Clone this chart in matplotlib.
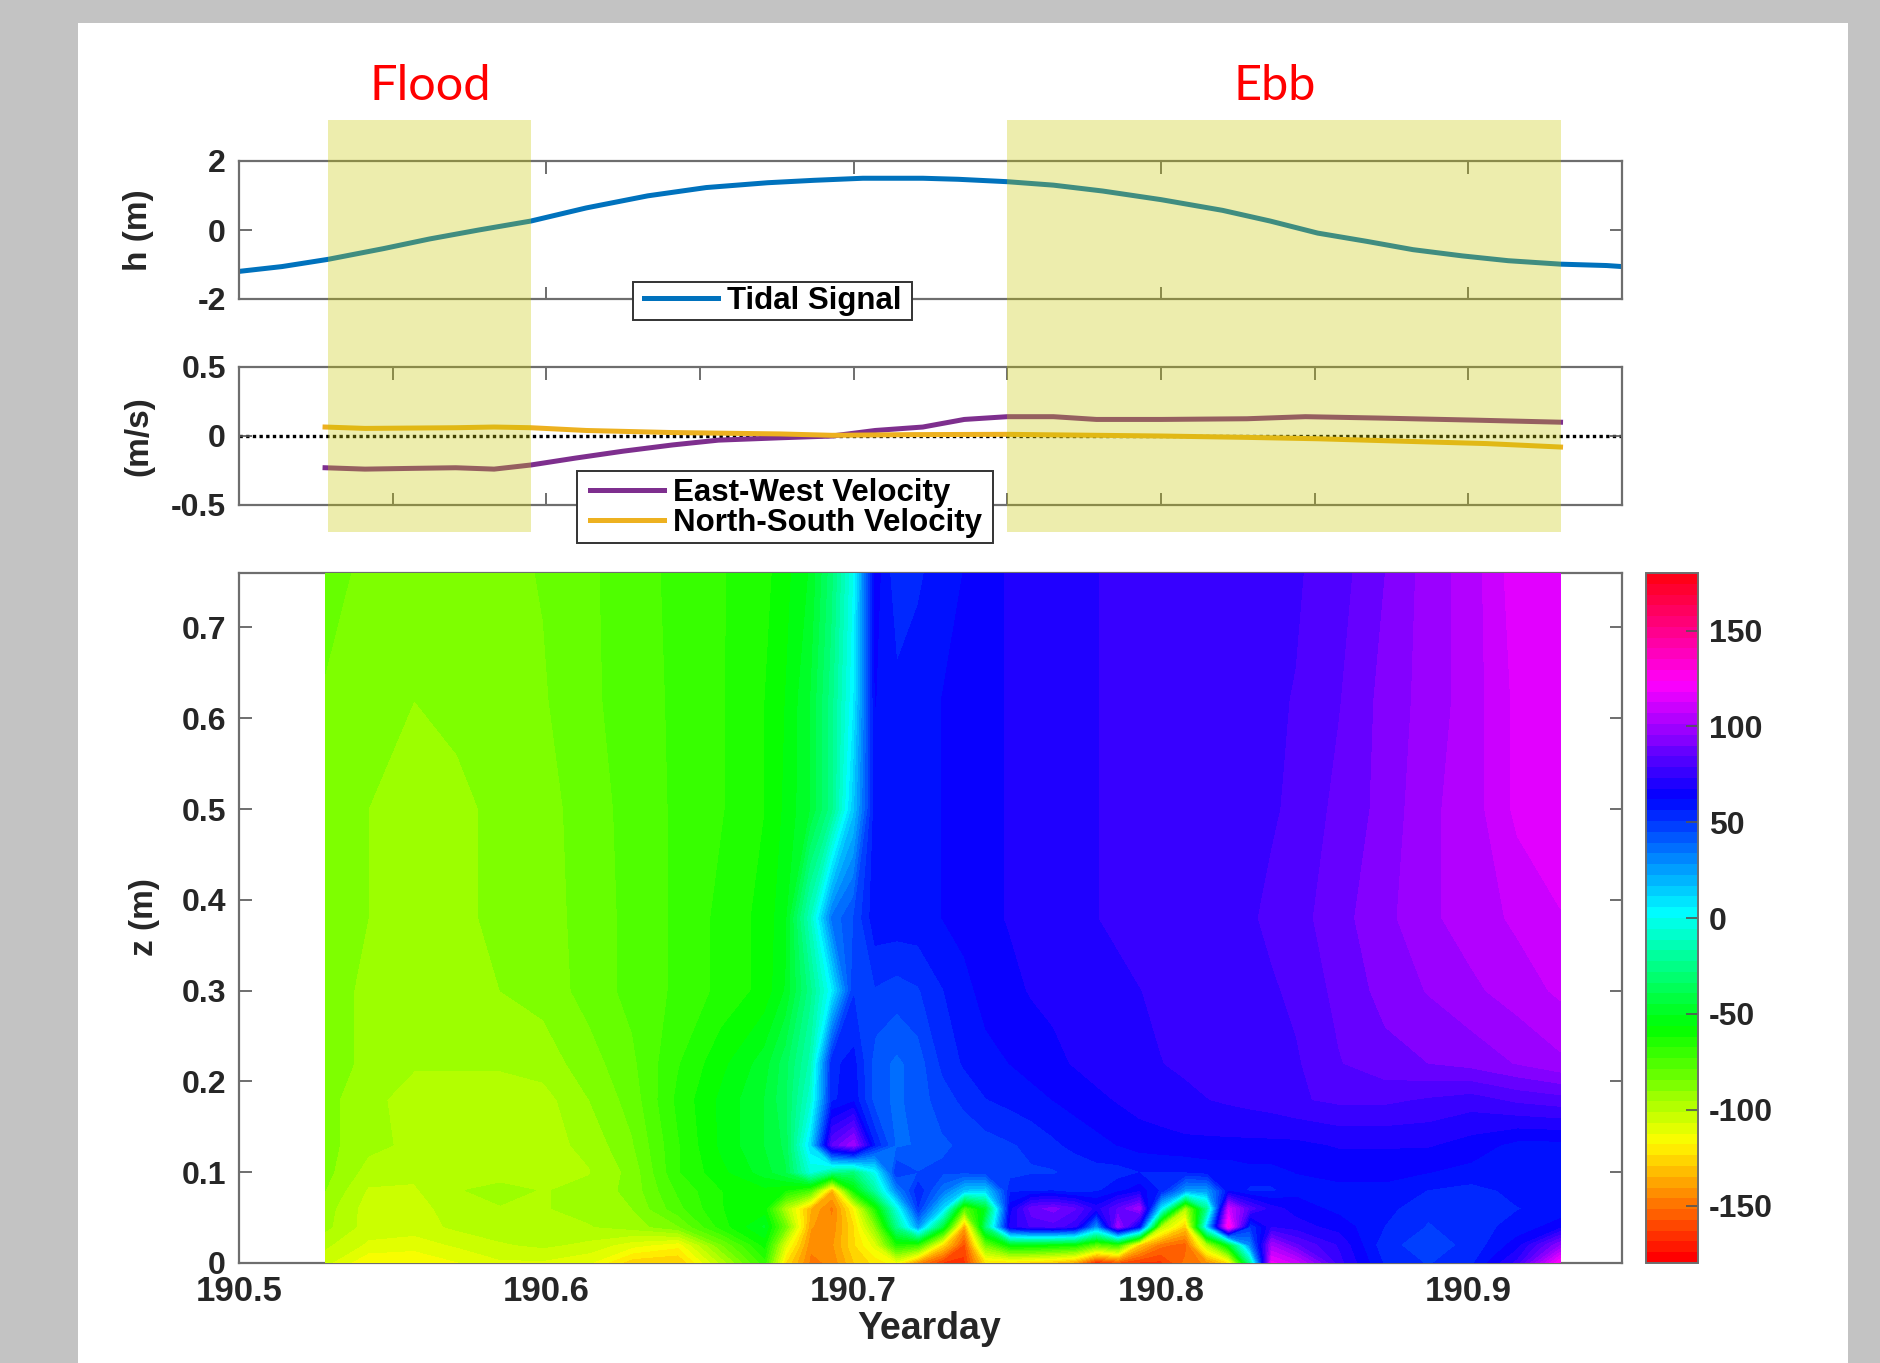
import numpy as np
import matplotlib
matplotlib.use('Agg')
import matplotlib.pyplot as plt
from matplotlib.colors import ListedColormap
from matplotlib.patches import Rectangle
from matplotlib.transforms import blended_transform_factory

W = 1880
H = 1363

# tidal signal
tide_t = [190.500, 190.514, 190.529, 190.547, 190.562, 190.578, 190.595, 190.613, 190.633, 190.652,
          190.672, 190.687, 190.703, 190.7225, 190.734, 190.750, 190.765, 190.781, 190.800, 190.820,
          190.8355, 190.851, 190.867, 190.882, 190.898, 190.913, 190.930, 190.945, 190.950]
tide_h = [-1.20, -1.06, -0.85, -0.54, -0.26, 0.0, 0.26, 0.64, 0.99, 1.23,
          1.37, 1.44, 1.50, 1.50, 1.47, 1.40, 1.30, 1.13, 0.88, 0.57,
          0.26, -0.09, -0.33, -0.57, -0.75, -0.89, -0.99, -1.03, -1.06]

# velocities
ew_t = [190.528, 190.541, 190.555, 190.5705, 190.583, 190.595, 190.6095, 190.625, 190.641, 190.656, 190.676, 190.693,
        190.707, 190.7225, 190.736, 190.750, 190.765, 190.779, 190.800, 190.828, 190.847, 190.871, 190.902, 190.930]
ew_v = [-0.23, -0.24, -0.235, -0.23, -0.24, -0.21, -0.16, -0.11, -0.065, -0.03, -0.013, 0.0,
        0.04, 0.065, 0.12, 0.14, 0.14, 0.12, 0.12, 0.125, 0.14, 0.13, 0.115, 0.10]
ns_t = [190.528, 190.541, 190.5705, 190.583, 190.595, 190.613, 190.641, 190.676, 190.693,
        190.718, 190.750, 190.800, 190.828, 190.851, 190.882, 190.906, 190.930]
ns_v = [0.065, 0.055, 0.06, 0.065, 0.06, 0.04, 0.025, 0.015, 0.005,
        0.01, 0.012, 0.0, -0.01, -0.02, -0.04, -0.055, -0.08]

# direction field
grid_t = [190.528, 190.542, 190.557, 190.571, 190.585, 190.599, 190.614, 190.628, 190.643, 190.657,
          190.671, 190.678, 190.686, 190.693, 190.700, 190.707, 190.714, 190.721, 190.729, 190.736,
          190.743, 190.751, 190.758, 190.765, 190.772, 190.779, 190.786, 190.793, 190.800, 190.808,
          190.815, 190.822, 190.829, 190.836, 190.844, 190.858, 190.873, 190.887, 190.901, 190.916, 190.930]
grid_z = [0, 0.02, 0.04, 0.06, 0.08, 0.10, 0.13, 0.18, 0.22, 0.30, 0.38, 0.50, 0.62, 0.76]

row_000 = [-105, -118, -118, -113, -108, -108, -112, -128, -130, -100, -70, -125, -148, -145, -130, -122, -115, -145, -165, -165,
           -125, -125, -128, -132, -140, -170, -160, -165, -165, -150, -145, -125, -25, 120, 110, 75, 55, 50, 55, 75, 125]
row_002 = [-100, -108, -110, -106, -102, -100, -103, -110, -116, -85, -60, -110, -145, -142, -125, -110, -65, -70, -125, -160,
           -85, -55, -55, -58, -60, -80, -70, -130, -150, -155, -100, -50, 30, 100, 85, 72, 52, 48, 52, 65, 95]
row_004 = [-94, -104, -104, -100, -98, -98, -96, -93, -85, -65, -50, -85, -140, -145, -125, -90, -25, 25, -45, -140,
           -30, 70, 80, 82, 75, 25, 100, 60, -100, -130, 10, 130, 50, 72, 70, 65, 56, 50, 54, 58, 65]
row_006 = [-93, -104, -104, -98, -96, -96, -94, -90, -75, -62, -60, -100, -135, -148, -118, -65, -5, 50, 10, -80,
           -50, 65, 88, 92, 85, 70, 85, 100, 5, -100, -25, 110, 82, 70, 65, 60, 58, 52, 54, 56, 58]
row_008 = [-90, -102, -102, -96, -94, -96, -94, -88, -72, -62, -58, -62, -75, -135, -60, -20, 30, 55, 35, 15,
           12, 55, 55, 55, 52, 55, 60, 65, 55, 25, 25, 60, 55, 55, 60, 60, 60, 56, 54, 58, 60]
row_010 = [-88, -98, -100, -98, -98, -98, -96, -88, -68, -58, -48, -40, -5, -25, -30, 0, 50, 45, 46, 46,
           48, 48, 50, 50, 52, 54, 54, 56, 56, 56, 58, 58, 60, 60, 62, 64, 64, 62, 60, 60, 60]
row_013 = [-88, -94, -97, -98, -98, -98, -94, -85, -68, -55, -45, -38, 10, 85, 100, 55, 38, 40, 44, 46,
           48, 50, 52, 55, 58, 60, 62, 64, 65, 66, 66, 66, 66, 66, 66, 68, 68, 68, 65, 60, 60]
row_018 = [-88, -94, -98, -98, -98, -98, -90, -82, -66, -55, -45, -35, -8, 55, 60, 42, 38, 42, 48, 52,
           56, 58, 60, 62, 64, 66, 68, 70, 71, 72, 73, 74, 75, 76, 78, 80, 80, 78, 76, 80, 82]
row_022 = [-86, -92, -95, -95, -95, -93, -87, -80, -68, -58, -48, -36, -15, 55, 58, 42, 38, 42, 52, 57,
           60, 62, 64, 66, 68, 70, 71, 72, 73, 74, 75, 76, 76, 78, 78, 84, 88, 90, 92, 96, 100]
row_030 = [-86, -92, -93, -92, -90, -88, -82, -77, -72, -66, -60, -50, -25, 5, 50, 50, 48, 50, 56, 60,
           64, 66, 68, 69, 70, 71, 72, 73, 74, 75, 75, 76, 76, 78, 80, 86, 92, 96, 100, 104, 108]
row_038 = [-86, -90, -92, -91, -89, -87, -82, -77, -72, -66, -60, -52, -12, 35, 45, 60, 60, 60, 62, 64,
           66, 68, 70, 71, 72, 73, 74, 75, 76, 76, 76, 77, 78, 80, 82, 88, 94, 100, 104, 108, 112]
row_050 = [-86, -90, -92, -91, -89, -87, -81, -77, -72, -68, -62, -55, -45, -25, 15, 60, 60, 60, 62, 64,
           66, 68, 70, 71, 72, 73, 74, 75, 76, 76, 76, 77, 78, 78, 80, 86, 92, 100, 104, 114, 118]
row_062 = [-85, -89, -90, -89, -88, -85, -80, -76, -72, -68, -62, -56, -45, -25, 5, 62, 58, 60, 62, 64,
           66, 68, 70, 71, 72, 73, 74, 75, 76, 76, 76, 77, 78, 78, 79, 84, 92, 98, 104, 114, 118]
row_076 = [-82, -86, -88, -87, -86, -84, -80, -75, -72, -68, -64, -58, -50, -30, 0, 65, 52, 55, 60, 62,
           66, 68, 70, 71, 72, 73, 74, 75, 75, 76, 76, 77, 77, 78, 78, 82, 90, 98, 104, 116, 118]

xticks_all = [190.5, 190.6, 190.7, 190.8, 190.9]
xticks_mid = [190.55, 190.6, 190.65, 190.7, 190.75, 190.8, 190.85, 190.9]
flood = [190.529, 190.595]
ebb = [190.750, 190.930]

INK = '#262626'
SPINE = '#6e6e6e'
plt.rcParams['font.family'] = ['Liberation Sans', 'DejaVu Sans']
plt.rcParams['font.weight'] = 'bold'
plt.rcParams['axes.labelweight'] = 'bold'


def px_axes(fig, x0, y0, x1, y1):
    return fig.add_axes([x0 / W, 1 - y1 / H, (x1 - x0) / W, (y1 - y0) / H])


def style_axes(ax):
    for s in ax.spines.values():
        s.set_color(SPINE)
        s.set_linewidth(1.6)
    ax.tick_params(direction='in', length=9, width=1.2, color='#555555', labelsize=23,
                   labelcolor=INK, top=True, right=True)
    ax.tick_params(axis='y', pad=9.5)


def boxed_legend(fig, ax, box, cx, cy):
    # frame and entries sit above the axes, the frame is wider than matplotlib's padding allows
    x0, y0, x1, y1 = box
    fig.add_artist(Rectangle((x0 / W, 1 - y1 / H), (x1 - x0) / W, (y1 - y0) / H, transform=fig.transFigure,
                             facecolor='white', edgecolor='#333333', lw=1.4, zorder=3))
    handles, labels = ax.get_legend_handles_labels()
    leg = fig.legend(handles, labels, loc='center', bbox_to_anchor=(cx / W, 1 - cy / H), frameon=False,
                     fontsize=22.5, handlelength=2.35, handletextpad=0.3, borderpad=0, borderaxespad=0,
                     labelspacing=0.02)
    leg.set_zorder(4)


fig = plt.figure(figsize=(W / 100, H / 100), dpi=100, facecolor='#c3c3c3')
fig.add_artist(Rectangle((78 / W, 0), (1848 - 78) / W, 1 - 23 / H, transform=fig.transFigure,
                         facecolor='white', edgecolor='none', zorder=-10))

# top panel
ax1 = px_axes(fig, 239, 161, 1622, 299)
ax1.plot(tide_t, tide_h, color='#0072BD', lw=3.6, label='Tidal Signal')
ax1.set_xlim(190.5, 190.95)
ax1.set_ylim(-2, 2)
ax1.set_xticks([190.6, 190.7, 190.8, 190.9])
ax1.set_xticklabels([])
ax1.set_yticks([-2, 0, 2])
ax1.set_yticklabels(['-2', '0', '2'])
style_axes(ax1)
ax1.set_ylabel('h (m)', fontsize=24, color=INK, va='center')
ax1.yaxis.set_label_coords((139 - 239) / (1622 - 239), 0.5)
boxed_legend(fig, ax1, (633, 282, 912, 320), 773, 301)

# middle panel
ax2 = px_axes(fig, 239, 367, 1622, 505)
ax2.plot(ew_t, ew_v, color='#7E2F8E', lw=3.6, label='East-West Velocity')
ax2.plot(ns_t, ns_v, color='#EDB120', lw=3.6, label='North-South Velocity')
ax2.axhline(0, color='black', lw=2.4, ls=(0, (1, 1)), zorder=1)
ax2.set_xlim(190.5, 190.95)
ax2.set_ylim(-0.5, 0.5)
ax2.set_xticks(xticks_mid)
ax2.set_xticklabels([])
ax2.set_yticks([-0.5, 0, 0.5])
ax2.set_yticklabels(['-0.5', '0', '0.5'])
style_axes(ax2)
ax2.set_ylabel('(m/s)', fontsize=24, color=INK, va='center')
ax2.yaxis.set_label_coords((139 - 239) / (1622 - 239), 0.5)
boxed_legend(fig, ax2, (577, 471, 993, 543), 786, 508)

# contour panel
ax3 = px_axes(fig, 239, 573, 1622, 1263)
field = np.array([row_000, row_002, row_004, row_006, row_008, row_010, row_013, row_018,
                  row_022, row_030, row_038, row_050, row_062, row_076], dtype=float)
cmap = ListedColormap(plt.get_cmap('hsv')(np.linspace(0, 1, 64)))
levels = np.linspace(-180, 180, 65)
cs = ax3.contourf(grid_t, grid_z, field, levels=levels, cmap=cmap, vmin=-180, vmax=180, zorder=3)
ax3.set_xlim(190.5, 190.95)
ax3.set_ylim(0, 0.76)
ax3.set_xticks(xticks_all)
ax3.set_xticklabels(['190.5', '190.6', '190.7', '190.8', '190.9'])
ax3.set_yticks([0, 0.1, 0.2, 0.3, 0.4, 0.5, 0.6, 0.7])
ax3.set_yticklabels(['0', '0.1', '0.2', '0.3', '0.4', '0.5', '0.6', '0.7'])
style_axes(ax3)
ax3.set_axisbelow(True)
ax3.spines['top'].set_zorder(1)
ax3.spines['bottom'].set_zorder(1)
ax3.tick_params(axis='x', pad=8.5, labelsize=25)
ax3.set_xlabel('Yearday', fontsize=27, color=INK, va='center')
ax3.xaxis.set_label_coords((929 - 239) / (1622 - 239), -(1329 - 1263) / (1263 - 573))
ax3.set_ylabel('z (m)', fontsize=24, color=INK, va='center')
ax3.yaxis.set_label_coords((144 - 239) / (1622 - 239), (1263 - 917) / (1263 - 573))

cax = px_axes(fig, 1646, 573, 1698, 1263)
cb = fig.colorbar(cs, cax=cax, drawedges=False)
cb.set_ticks([-150, -100, -50, 0, 50, 100, 150])
cb.set_ticklabels(['-150', '-100', '-50', '0', '50', '100', '150'])
cb.ax.tick_params(direction='in', length=9, width=1.2, color='#555555', labelsize=23, labelcolor=INK, pad=8)
cb.outline.set_edgecolor(SPINE)
cb.outline.set_linewidth(1.4)

# flood / ebb shading across the two upper panels
trans = blended_transform_factory(ax1.transData, fig.transFigure)
for span in (flood, ebb):
    fig.add_artist(Rectangle((span[0], 1 - 532 / H), span[1] - span[0], (532 - 120) / H, transform=trans,
                             facecolor=(200 / 255, 200 / 255, 0), alpha=0.32, edgecolor='none', zorder=5))

fig.text(430 / W, 1 - 86 / H, 'Flood', color='red', fontsize=35, family='Lato', weight='normal',
         ha='center', va='center')
fig.text(1275 / W, 1 - 86 / H, 'Ebb', color='red', fontsize=35, family='Lato', weight='normal',
         ha='center', va='center')

fig.savefig('out.png', dpi=100, facecolor=fig.get_facecolor())
